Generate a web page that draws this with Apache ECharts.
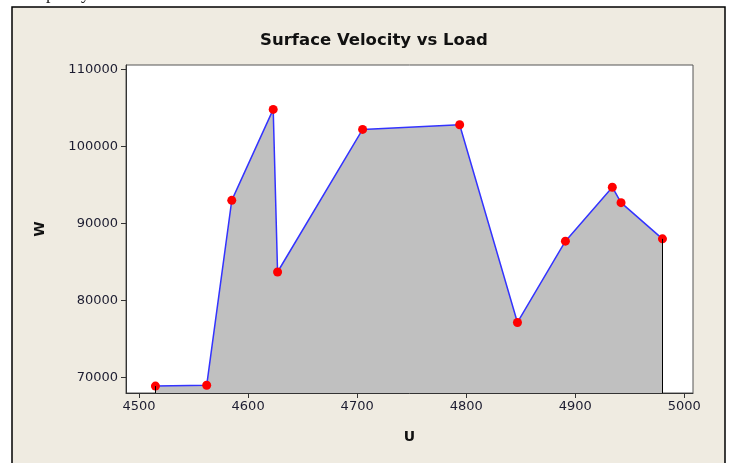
<!DOCTYPE html>
<html>
<head>
<meta charset="utf-8">
<script src="https://cdn.jsdelivr.net/npm/echarts@6/dist/echarts.min.js"></script>
<style>
html,body{margin:0;padding:0;background:#fff;}
#c{width:732px;height:463px;}
</style>
</head>
<body>
<div id="c"></div>
<script>
// Data
const uValues = [4515, 4562, 4585, 4623, 4627, 4705, 4794, 4847, 4891, 4934, 4942, 4980];
const wValues = [68900, 69000, 93000, 104800, 83700, 102200, 102800, 77150, 87700, 94700, 92700, 88000];
const xTicks = [4500, 4600, 4700, 4800, 4900, 5000];
const yTicks = [70000, 80000, 90000, 100000, 110000];
const titleText = 'Surface Velocity vs Load';
const xName = 'U';
const yName = 'W';

const xMin = 4488, xMax = 5008;
const yMin = 68000, yMax = 110560;

const points = uValues.map((u, i) => [u, wValues[i]]);
const last = uValues.length - 1;

const chart = echarts.init(document.getElementById('c'), null, {renderer: 'canvas'});
const labelFont = {fontFamily: 'DejaVu Sans', fontSize: 13, color: '#1c1c30', formatter: v => String(v)};

chart.setOption({
  backgroundColor: '#ffffff',
  animation: false,
  graphic: [
    {
      type: 'rect', z: -10, silent: true,
      shape: {x: 12, y: 7, width: 713, height: 470},
      style: {fill: '#efebe1', stroke: '#000', lineWidth: 1.5}
    },
    {
      type: 'text', z: -5, silent: true, left: 30, top: -15,
      style: {text: 'capacity', font: '18px "Liberation Serif"', fill: '#222'}
    }
  ],
  title: {
    text: titleText,
    left: 369, top: 27, textAlign: 'center',
    textStyle: {fontFamily: 'DejaVu Sans', fontWeight: 'bold', fontSize: 16.5, color: '#111'}
  },
  grid: {
    left: 126, top: 65, right: 39, bottom: 70,
    show: true, backgroundColor: '#ffffff', borderColor: '#555', borderWidth: 1
  },
  xAxis: {
    type: 'value', min: xMin, max: xMax,
    name: xName, nameLocation: 'middle', nameGap: 37,
    nameTextStyle: {fontFamily: 'DejaVu Sans', fontWeight: 'bold', fontSize: 14, color: '#111'},
    axisLine: {show: true, lineStyle: {color: '#333', width: 1}},
    axisTick: {show: true, length: 5, inside: false, customValues: xTicks, lineStyle: {color: '#333'}},
    axisLabel: Object.assign({margin: 7, customValues: xTicks}, labelFont),
    splitLine: {show: false}
  },
  yAxis: {
    type: 'value', min: yMin, max: yMax,
    name: yName, nameLocation: 'middle', nameGap: 79, nameRotate: 90,
    nameTextStyle: {fontFamily: 'DejaVu Sans', fontWeight: 'bold', fontSize: 14, color: '#111'},
    axisLine: {show: true, lineStyle: {color: '#333', width: 1}},
    axisTick: {show: true, length: 5, inside: false, customValues: yTicks, lineStyle: {color: '#333'}},
    axisLabel: Object.assign({margin: 8, customValues: yTicks}, labelFont),
    splitLine: {show: false}
  },
  series: [{
    type: 'line',
    data: points,
    symbol: 'circle', symbolSize: 9,
    itemStyle: {color: '#ff0000'},
    lineStyle: {color: '#3333ff', width: 1.5},
    areaStyle: {color: '#c0c0c0', opacity: 1, origin: 'start'},
    markLine: {
      silent: true, symbol: 'none', animation: false,
      label: {show: false},
      lineStyle: {color: '#000', width: 1, type: 'solid'},
      data: [
        [{coord: [uValues[0], yMin]}, {coord: [uValues[0], wValues[0]]}],
        [{coord: [uValues[last], yMin]}, {coord: [uValues[last], wValues[last]]}]
      ]
    },
    z: 3
  }]
});
</script>
</body>
</html>
